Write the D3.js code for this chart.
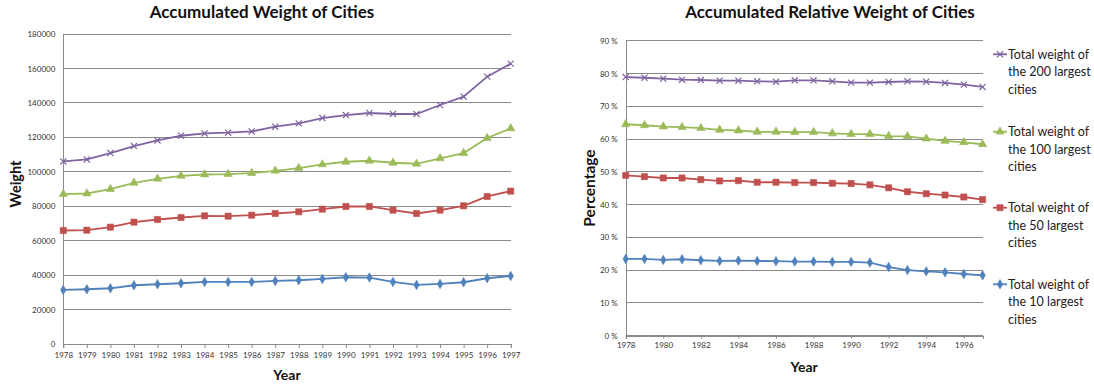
<!DOCTYPE html>
<html>
<head>
<meta charset="utf-8">
<script src="https://cdn.jsdelivr.net/npm/d3@7"></script>
<style>
  html, body { margin: 0; padding: 0; background: #fff; }
  svg { display: block; font-family: Lato, "Open Sans", sans-serif; }
</style>
</head>
<body>
<svg id="chart" width="1094" height="388"></svg>
<script>
// Years 1978–1997
const years = d3.range(1978, 1998);

// Accumulated weight (absolute)
const weight200 = [106000, 107150, 110870, 114940, 118200, 120930, 122270, 122680, 123430, 126160,
                   128100, 131200, 132950, 134130, 133550, 133550, 138760, 143600, 155240, 162790];
const weight100 = [87010, 87400, 89930, 93600, 95930, 97680, 98430, 98630, 99240, 100580,
                   102130, 104260, 105810, 106400, 105230, 104650, 107750, 110870, 119590, 125190];
const weight50  = [65900, 66100, 67850, 70750, 72280, 73440, 74420, 74230, 74810, 75780,
                   76750, 78300, 79850, 79850, 77720, 75780, 77720, 80230, 85660, 88760];
const weight10  = [31400, 31780, 32360, 34110, 34690, 35270, 36050, 36050, 36050, 36630,
                   37020, 37790, 38760, 38570, 36050, 34300, 34880, 35850, 38180, 39530];

// Relative weight (percent of total)
const share200 = [78.9, 78.7, 78.4, 78.1, 78.0, 77.8, 77.8, 77.6, 77.5, 77.9,
                  77.9, 77.6, 77.2, 77.2, 77.4, 77.6, 77.5, 77.1, 76.6, 75.9];
const share100 = [64.5, 64.2, 63.8, 63.6, 63.3, 62.8, 62.6, 62.2, 62.2, 62.1,
                  62.1, 61.7, 61.5, 61.5, 60.9, 60.8, 60.1, 59.4, 59.0, 58.4];
const share50  = [48.9, 48.5, 48.1, 48.1, 47.6, 47.2, 47.3, 46.8, 46.8, 46.7,
                  46.7, 46.5, 46.4, 46.0, 45.1, 43.9, 43.3, 42.9, 42.3, 41.5];
const share10  = [23.4, 23.4, 23.1, 23.3, 23.0, 22.8, 22.9, 22.8, 22.7, 22.6,
                  22.6, 22.5, 22.5, 22.3, 20.9, 20.0, 19.6, 19.3, 18.8, 18.4];

const weightTicks = d3.range(0, 180001, 20000);
const shareTicks = d3.range(0, 91, 10);
const shareYearTicks = d3.range(1978, 1997, 2);

const seriesNames = ["Total weight of the 200 largest cities",
                     "Total weight of the 100 largest cities",
                     "Total weight of the 50 largest cities",
                     "Total weight of the 10 largest cities"];
const colors = ["#8064A2", "#9BBB59", "#C0504D", "#4F81BD"];
const symbols = [d3.symbolX, d3.symbolTriangle, d3.symbolSquare, d3.symbolDiamond];
const symbolSizes = [26, 30, 38, 26];

const svg = d3.select("#chart");
const gridColor = "#8a8a8a";

function drawPanel(opts) {
  const { xRange, yRange, yDomain, yTicks, yFmt, xTickValues, xLabelY, data, title, titleX,
          yLabel, yLabelX, yLabelY, yLabelSize, yearY, tickLen } = opts;
  const x = d3.scaleLinear().domain([1978, 1997]).range(xRange);
  const y = d3.scaleLinear().domain(yDomain).range(yRange);
  const g = svg.append("g");

  // horizontal gridlines
  g.append("g").selectAll("line").data(yTicks).join("line")
    .attr("x1", xRange[0]).attr("x2", xRange[1])
    .attr("y1", d => y(d)).attr("y2", d => y(d))
    .attr("stroke", gridColor).attr("stroke-width", 1).attr("shape-rendering", "crispEdges");

  // y axis
  const yAxis = d3.axisLeft(y).tickValues(yTicks).tickSize(0).tickPadding(8).tickFormat(yFmt);
  const ya = g.append("g").attr("transform", `translate(${xRange[0]},0)`).call(yAxis);
  ya.select(".domain").attr("stroke", gridColor).attr("shape-rendering", "crispEdges");
  ya.selectAll("text").attr("font-size", 8).attr("fill", "#333").attr("font-family", "Lato, sans-serif");

  // x axis
  const xAxis = d3.axisBottom(x).tickValues(xTickValues).tickSize(tickLen).tickPadding(xLabelY).tickFormat(d3.format("d"));
  const xa = g.append("g").attr("transform", `translate(0,${yRange[0]})`).call(xAxis);
  xa.select(".domain").attr("stroke", gridColor).attr("shape-rendering", "crispEdges");
  xa.selectAll(".tick line").attr("stroke", gridColor);
  xa.selectAll("text").attr("font-size", 8).attr("fill", "#333").attr("font-family", "Lato, sans-serif");

  // series lines and markers
  data.forEach((vals, i) => {
    const line = d3.line().x((d, j) => x(years[j])).y(d => y(d));
    g.append("path").datum(vals).attr("d", line)
      .attr("fill", "none").attr("stroke", colors[i]).attr("stroke-width", 1.8);
    const sym = d3.symbol().type(symbols[i]).size(symbolSizes[i]);
    g.append("g").selectAll("path").data(vals).join("path")
      .attr("transform", (d, j) => `translate(${x(years[j])},${y(d)})`)
      .attr("d", sym)
      .attr("fill", i === 0 ? "none" : colors[i])
      .attr("stroke", colors[i])
      .attr("stroke-width", i === 0 ? 1.2 : 0.6);
  });

  // titles
  svg.append("text").attr("x", titleX).attr("y", 18).attr("text-anchor", "middle")
    .attr("font-size", 17).attr("font-weight", "bold").attr("fill", "#111").text(title);
  svg.append("text").attr("transform", `translate(${yLabelX},${yLabelY}) rotate(-90)`)
    .attr("text-anchor", "middle").attr("font-size", yLabelSize).attr("font-weight", "bold").attr("fill", "#111").text(yLabel);
  svg.append("text").attr("x", (xRange[0] + xRange[1]) / 2).attr("y", yearY).attr("text-anchor", "middle")
    .attr("font-size", 14).attr("font-weight", "bold").attr("fill", "#111").text("Year");
}

drawPanel({
  xRange: [63.3, 510.7], yRange: [344, 34], yDomain: [0, 180000], yTicks: weightTicks,
  yFmt: d3.format("d"), xTickValues: years, xLabelY: 4, tickLen: 4,
  data: [weight200, weight100, weight50, weight10],
  title: "Accumulated Weight of Cities", titleX: 262,
  yLabel: "Weight", yLabelX: 21, yLabelY: 184, yLabelSize: 14.5, yearY: 380
});

drawPanel({
  xRange: [625.7, 982.6], yRange: [335.6, 40.7], yDomain: [0, 90], yTicks: shareTicks,
  yFmt: d => d + " %", xTickValues: shareYearTicks, xLabelY: 4, tickLen: 3,
  data: [share200, share100, share50, share10],
  title: "Accumulated Relative Weight of Cities", titleX: 830,
  yLabel: "Percentage", yLabelX: 595, yLabelY: 188, yLabelSize: 15.5, yearY: 372
});

// legend
const legendTop = [54.3, 131.7, 207.7, 284.3];
const legend = svg.append("g");
seriesNames.forEach((name, i) => {
  const ly = legendTop[i];
  const item = legend.append("g");
  item.append("line").attr("x1", 993).attr("x2", 1007).attr("y1", ly).attr("y2", ly)
    .attr("stroke", colors[i]).attr("stroke-width", 1.8);
  item.append("path").attr("transform", `translate(1000,${ly})`)
    .attr("d", d3.symbol().type(symbols[i]).size(symbolSizes[i]))
    .attr("fill", i === 0 ? "none" : colors[i]).attr("stroke", colors[i])
    .attr("stroke-width", i === 0 ? 1.2 : 0.6);
  const words = ["Total weight of", name.replace("Total weight of ", "").replace(" cities", ""), "cities"];
  words.forEach((w, k) => {
    item.append("text").attr("x", 1008).attr("y", ly + 4.5 + k * 17.5)
      .attr("font-size", 12.5).attr("fill", "#222").attr("font-family", "Lato, sans-serif").text(w);
  });
});
</script>
</body>
</html>
